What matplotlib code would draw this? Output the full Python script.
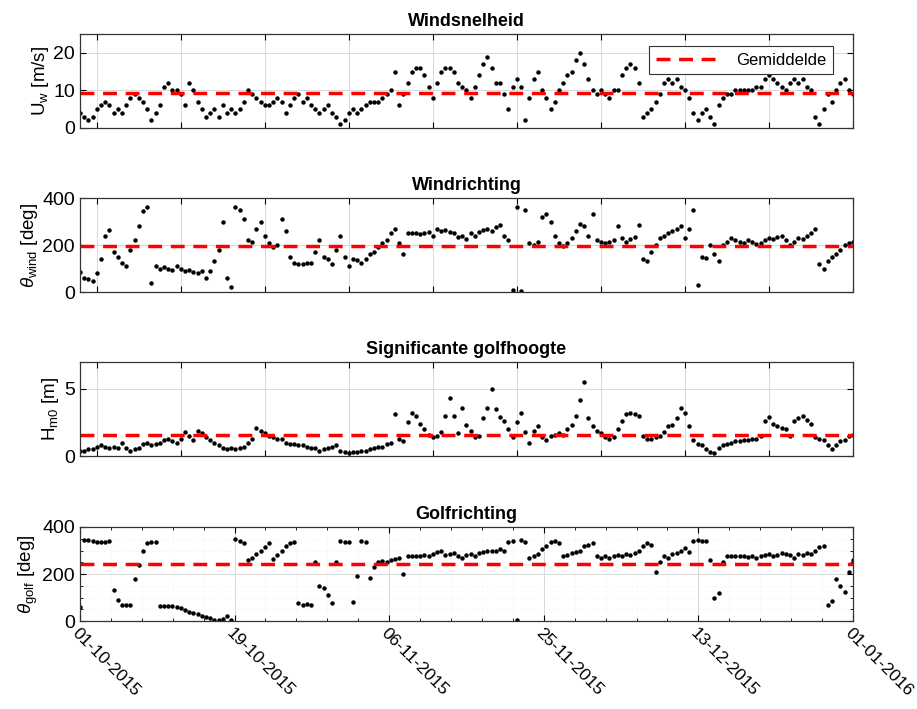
import matplotlib
matplotlib.use("Agg")
import matplotlib.pyplot as plt
import matplotlib.dates as mdates
import numpy as np
import pandas as pd

plt.rcParams['font.family'] = ['Liberation Sans', 'DejaVu Sans']
plt.rcParams['mathtext.fontset'] = 'custom'
plt.rcParams['mathtext.rm'] = 'Liberation Sans'
plt.rcParams['mathtext.it'] = 'Liberation Sans:italic'

# tijdstappen: elke 12 uur, 01-10-2015 t/m 01-01-2016
tijd = pd.date_range("2015-10-01", "2016-01-01", freq="12h")

# windsnelheid [m/s]
windsnelheid = [
    4, 3, 2, 3, 5, 6, 7, 6, 4, 5,
    4, 6, 8, 9, 8, 7, 5, 2, 4, 6,
    11, 12, 10, 10, 9, 6, 12, 10, 7, 5,
    3, 4, 5, 3, 6, 4, 5, 4, 5, 7,
    10, 9, 8, 7, 6, 6, 7, 8, 7, 4,
    6, 8, 9, 7, 8, 6, 5, 4, 5, 6,
    4, 3, 1, 2, 4, 5, 4, 5, 6, 7,
    7, 7, 8, 9, 10, 15, 6, 9, 12, 15,
    16, 16, 14, 11, 8, 12, 15, 16, 16, 15,
    12, 11, 10, 8, 11, 14, 17, 19, 16, 12,
    12, 9, 5, 11, 13, 11, 2, 8, 13, 15,
    10, 8, 5, 7, 10, 12, 14, 15, 18, 20,
    17, 13, 10, 9, 10, 9, 8, 10, 10, 14,
    16, 17, 16, 12, 3, 4, 5, 7, 9, 12,
    13, 12, 13, 11, 10, 8, 4, 2, 4, 5,
    3, 1, 6, 8, 9, 9, 10, 10, 10, 10,
    10, 11, 11, 13, 14, 13, 12, 11, 10, 12,
    13, 12, 13, 11, 10, 3, 1, 5, 9, 7,
    10, 12, 13, 10, 9,
]

# windrichting [deg]
windrichting = [
    85, 60, 55, 45, 80, 140, 240, 265, 170, 150,
    125, 110, 180, 220, 280, 345, 360, 40, 110, 100,
    105, 100, 95, 110, 100, 90, 95, 85, 80, 90,
    60, 90, 130, 180, 300, 60, 20, 360, 350, 310,
    220, 215, 270, 300, 240, 210, 190, 200, 310, 260,
    150, 125, 120, 118, 122, 125, 170, 220, 150, 140,
    120, 180, 240, 150, 110, 140, 135, 125, 140, 160,
    170, 190, 210, 220, 250, 270, 210, 160, 250, 250,
    250, 245, 250, 255, 240, 270, 260, 265, 255, 250,
    235, 240, 225, 250, 240, 255, 265, 270, 260, 275,
    285, 240, 220, 10, 360, 5, 350, 210, 200, 215,
    320, 330, 300, 240, 210, 195, 210, 230, 260, 290,
    280, 240, 330, 220, 215, 210, 215, 220, 280, 230,
    215, 225, 235, 285, 140, 130, 170, 200, 230, 240,
    250, 260, 270, 280, 230, 270, 350, 30, 150, 145,
    200, 160, 130, 200, 215, 230, 220, 215, 210, 220,
    215, 205, 210, 220, 230, 225, 235, 240, 220, 200,
    215, 230, 225, 240, 250, 270, 120, 100, 130, 150,
    160, 180, 200, 210, 215,
]

# significante golfhoogte [m]
golfhoogte = [
    0.4, 0.4, 0.5, 0.5, 0.7, 0.8, 0.7, 0.6, 0.7, 0.6,
    1.0, 0.6, 0.4, 0.5, 0.6, 0.9, 1.0, 0.8, 0.9, 1.0,
    1.2, 1.3, 1.1, 1.0, 1.3, 1.8, 1.5, 1.2, 1.9, 1.7,
    1.4, 1.2, 1.0, 0.8, 0.6, 0.5, 0.6, 0.5, 0.6, 0.7,
    1.0, 1.3, 2.1, 1.9, 1.7, 1.5, 1.4, 1.3, 1.3, 1.0,
    0.9, 0.9, 0.8, 0.8, 0.7, 0.6, 0.6, 0.4, 0.5, 0.6,
    0.7, 0.8, 0.4, 0.3, 0.2, 0.3, 0.3, 0.4, 0.4, 0.5,
    0.6, 0.7, 0.7, 0.9, 1.0, 3.1, 1.3, 1.1, 2.5, 3.2,
    3.0, 2.4, 2.0, 1.6, 1.4, 1.5, 1.8, 3.0, 4.3, 3.0,
    1.7, 3.6, 2.3, 1.9, 1.4, 1.5, 2.8, 3.6, 5.0, 3.5,
    2.9, 2.6, 2.0, 1.4, 2.5, 3.2, 1.8, 1.0, 1.9, 2.2,
    1.4, 1.2, 1.5, 1.6, 1.7, 1.6, 2.0, 2.3, 3.0, 4.2,
    5.5, 2.8, 2.2, 1.9, 1.7, 1.4, 1.3, 1.4, 2.0, 2.6,
    3.1, 3.2, 3.1, 3.0, 1.5, 1.3, 1.3, 1.4, 1.5, 1.8,
    2.2, 2.3, 2.8, 3.6, 3.2, 2.2, 1.2, 0.9, 0.8, 0.5,
    0.3, 0.2, 0.6, 0.8, 0.9, 1.0, 1.1, 1.1, 1.2, 1.2,
    1.3, 1.3, 1.5, 2.6, 2.9, 2.4, 2.2, 2.1, 2.0, 1.5,
    2.6, 2.8, 3.0, 2.7, 2.4, 1.4, 1.3, 1.2, 0.8, 0.5,
    0.8, 1.1, 1.2, 1.5, 1.6,
]

# golfrichting [deg]
golfrichting = [
    60, 345, 345, 340, 338, 335, 338, 340, 130, 90,
    70, 68, 70, 180, 240, 300, 330, 335, 335, 65,
    62, 65, 62, 60, 55, 45, 40, 35, 30, 22,
    18, 12, 5, 3, 8, 20, 5, 350, 340, 330,
    260, 270, 285, 300, 315, 330, 265, 280, 300, 320,
    330, 335, 75, 70, 72, 70, 250, 150, 140, 110,
    75, 250, 340, 338, 335, 80, 190, 340, 335, 185,
    230, 250, 255, 250, 260, 265, 270, 200, 275, 275,
    278, 275, 280, 278, 285, 295, 300, 280, 285, 290,
    275, 270, 280, 285, 275, 290, 295, 300, 298, 300,
    305, 300, 335, 340, 5, 345, 335, 270, 275, 285,
    305, 320, 335, 340, 330, 275, 280, 290, 295, 300,
    320, 325, 330, 275, 270, 275, 270, 275, 280, 275,
    285, 280, 290, 300, 320, 330, 325, 210, 250, 275,
    270, 285, 290, 300, 310, 295, 340, 345, 342, 340,
    260, 100, 120, 250, 275, 278, 275, 278, 275, 272,
    275, 270, 275, 280, 285, 275, 280, 290, 285, 280,
    270, 285, 280, 290, 285, 300, 315, 320, 70, 85,
    180, 150, 125, 210, 260,
]

# gemiddelden zoals in de figuur
gemiddelden = [9.2, 197, 1.55, 243]

titels = ["Windsnelheid", "Windrichting", "Significante golfhoogte", "Golfrichting"]
ylabels = [r"U$_\mathrm{w}$ [m/s]", r"$\theta_\mathrm{wind}$ [deg]",
           r"H$_\mathrm{m0}$ [m]", r"$\theta_\mathrm{golf}$ [deg]"]
ylims = [(0, 25), (0, 400), (0, 7), (0, 400)]
yticks = [[0, 10, 20], [0, 200, 400], [0, 5], [0, 200, 400]]
reeksen = [windsnelheid, windrichting, golfhoogte, golfrichting]

fig = plt.figure(figsize=(9.17, 7.09), dpi=100)
onderkanten = [0.8195, 0.5881, 0.3568, 0.1241]

t0 = mdates.date2num(pd.Timestamp("2015-10-01"))
t1 = mdates.date2num(pd.Timestamp("2016-01-01"))
x = mdates.date2num(tijd.to_pydatetime())

for i in range(4):
    ax = fig.add_axes([0.0872, onderkanten[i], 0.843, 0.1326])
    ax.plot(x, reeksen[i], 'o', color='black', markersize=3.2,
            markeredgewidth=0)
    lijn, = ax.plot([t0, t1], [gemiddelden[i]] * 2, '--', color='red',
                    linewidth=2.5, dashes=(4, 2.5), label='Gemiddelde')
    ax.set_xlim(t0, t1)
    ax.set_ylim(*ylims[i])
    ax.set_yticks(yticks[i])
    ax.set_title(titels[i], fontsize=13, fontweight='bold', pad=6)
    ax.set_ylabel(ylabels[i], fontsize=13.5, labelpad=2)
    ax.tick_params(direction='in', top=True, right=True, labelsize=14,
                   length=4, width=0.8)
    ax.tick_params(which='minor', direction='in', top=True, right=True,
                   length=2.5, width=0.6)
    for s in ax.spines.values():
        s.set_color('#333333')
        s.set_linewidth(0.9)

    if i < 3:
        ax.set_xticks(t0 + 2 + 10 * np.arange(10))
        ax.set_xticklabels([])
    else:
        ticks = np.linspace(t0, t1, 6)
        ax.set_xticks(ticks)
        ax.set_xticklabels([mdates.num2date(t).strftime("%d-%m-%Y") for t in ticks],
                           rotation=-45, ha='left', va='top', rotation_mode='anchor',
                           fontsize=12.5)
        ax.set_xticks(np.linspace(t0, t1, 26), minor=True)
        ax.set_yticks(np.arange(0, 401, 50), minor=True)

    ax.grid(True, which='major', color='#d8d8d8', linewidth=0.7)
    ax.grid(True, which='minor', color='#ececec', linewidth=0.5, linestyle=':')
    ax.set_axisbelow(True)

    if i == 0:
        leg = ax.legend(handles=[lijn], loc='upper right', fontsize=12,
                        fancybox=False, framealpha=1, edgecolor='#333333',
                        handlelength=4, borderpad=0.4, bbox_to_anchor=(0.985, 0.96))
        leg.get_frame().set_linewidth(0.8)

fig.savefig("out.png", dpi=100)
